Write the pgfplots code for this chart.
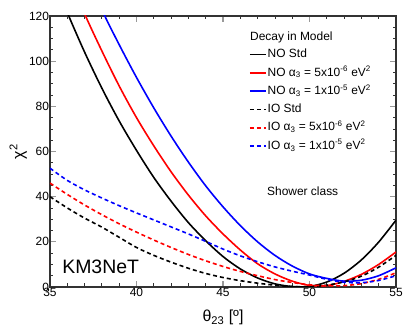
\documentclass[border=0pt]{standalone}
\usepackage{fontspec}
\setmainfont{Liberation Sans}
\usepackage{pgfplots}
\pgfplotsset{compat=1.18}

% chi^2 vs theta_23
\pgfplotstableread{
th    ns     n5     n1     is     i5     i1
35    140    160    180    40     46     52.6
36    121.5  140    160    35     41     47.2
37    104    121    142    30.5   36.3   43
38    88     104.5  122.8  26.5   32     39.4
39    73.5   89     107.3  22     28     36
40    60.5   75     92.8   17.5   24.3   32.8
41    48.5   62.5   79.3   14     20.8   29.7
42    38     51     66.8   11     17.5   26.6
43    28.5   40.7   55.3   8.3    14.4   23.5
44    20.5   31.5   44.8   6      11.6   20.2
45    13.5   23.5   35.5   4.2    9.1    16.8
46    8      16.4   27.2   2.8    6.9    13.8
47    4      10.3   20.0   1.7    5      11.2
48    1.4    5.8    14     0.8    3.3    8.9
49    0.2    2.6    9.3    0.2    2      7
50    0.25   0.7    5.8    0.1    1      5.3
51    2.2    0.6    3.8    0.8    0.5    3.4
52    6.1    2.5    2.6    2.3    0.6    2.1
53    12     5.6    3.0    4.8    1.5    1.9
54    19.9   10     5.0    8.8    3.4    2.9
55    29.6   15.5   8.5    14     6.3    5
}\chisq

\begin{document}
\begin{tikzpicture}
\useasboundingbox (-50bp,-40bp) rectangle (367bp,287bp);
\begin{axis}[
    at={(0,0)}, anchor=south west,
    scale only axis,
    width=346bp, height=271bp,
    xmin=35, xmax=55, ymin=0, ymax=120,
    xtick={35,40,...,55}, ytick={0,20,...,120},
    minor x tick num=4, minor y tick num=3,
    tick align=inside,
    major tick length=6bp, minor tick length=3.5bp,
    every major tick/.append style={black!40, line width=1.2bp},
    every minor tick/.append style={black!80, line width=0.8bp},
    axis line style={black!80, line width=1.5bp},
    /pgf/number format/assume math mode=true,
    tick label style={font=\fontsize{12}{14}\selectfont},
    yticklabel style={inner sep=0.8bp},
    xticklabel style={inner sep=1bp},
    xlabel={θ\textsubscript{23} [º]},
    ylabel={χ\textsuperscript{2}},
    xlabel style={font=\fontsize{16}{18}\selectfont, at={(axis description cs:0.5,-0.129)}, anchor=base},
    ylabel style={font=\fontsize{16}{18}\selectfont, at={(axis description cs:-0.092,0.5)}, anchor=center},
    legend style={at={(0.575,0.882)}, anchor=north west, draw=none, fill=none,
        inner sep=0pt, row sep=5.3bp,
        font=\fontsize{12}{14}\selectfont,
        nodes={inner sep=1bp, text height=8.6bp, text depth=2.4bp}},
    legend cell align=left,
    legend image code/.code={\draw[#1] (0bp,0bp) -- (16bp,0bp);},
    every axis plot/.append style={line width=1.6bp, smooth, tension=0.5},
]
\addplot[black] table[x=th, y=ns] {\chisq};
\addlegendentry{NO Std}
\addplot[red] table[x=th, y=n5] {\chisq};
\addlegendentry{NO α\textsubscript{3} = 5x10\textsuperscript{-6} eV\textsuperscript{2}}
\addplot[blue] table[x=th, y=n1] {\chisq};
\addlegendentry{NO α\textsubscript{3} = 1x10\textsuperscript{-5} eV\textsuperscript{2}}
\addplot[black, dash pattern=on 4bp off 3bp] table[x=th, y=is] {\chisq};
\addlegendentry{IO Std}
\addplot[red, dash pattern=on 4bp off 3bp] table[x=th, y=i5] {\chisq};
\addlegendentry{IO α\textsubscript{3} = 5x10\textsuperscript{-6} eV\textsuperscript{2}}
\addplot[blue, dash pattern=on 4bp off 3bp] table[x=th, y=i1] {\chisq};
\addlegendentry{IO α\textsubscript{3} = 1x10\textsuperscript{-5} eV\textsuperscript{2}}

\node[anchor=base west, inner sep=0pt, font=\fontsize{12}{14}\selectfont] at (rel axis cs:0.578,0.911) {Decay in Model};
\node[anchor=base west, inner sep=0pt, font=\fontsize{12}{14}\selectfont] at (rel axis cs:0.627,0.337) {Shower class};
\node[anchor=base west, inner sep=0pt, font=\fontsize{19.5}{22}\selectfont] at (rel axis cs:0.035,0.048) {KM3NeT};
\end{axis}
\end{tikzpicture}
\end{document}
